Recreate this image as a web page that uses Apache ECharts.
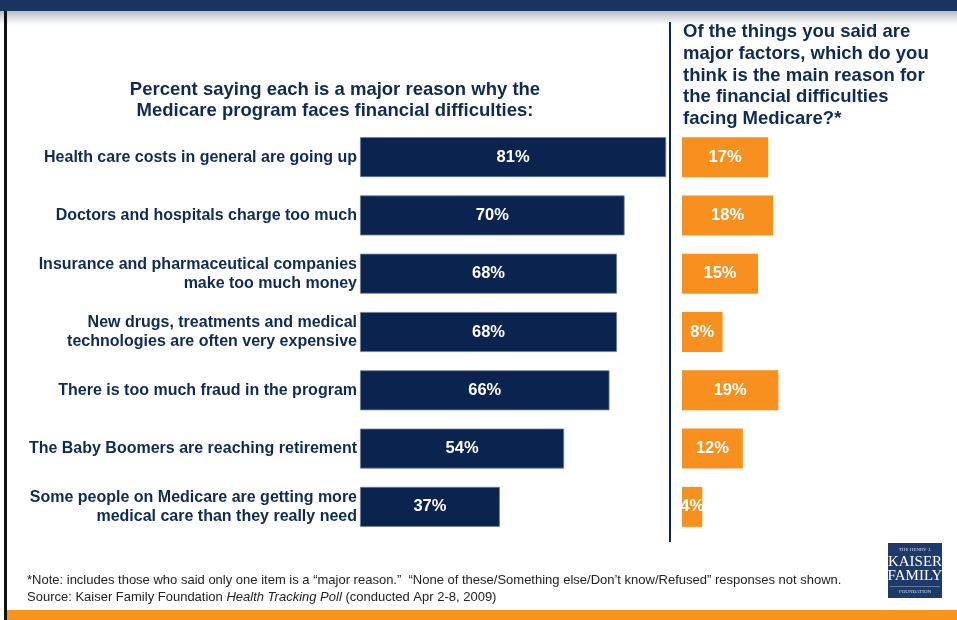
<!DOCTYPE html>
<html><head><meta charset="utf-8">
<script src="https://cdn.jsdelivr.net/npm/echarts@6/dist/echarts.min.js"></script>
<style>html,body{margin:0;padding:0;background:#fff}#c{width:957px;height:620px}</style>
</head><body><div id="c"></div>
<script>
const categories = [
  "Health care costs in general are going up",
  "Doctors and hospitals charge too much",
  "Insurance and pharmaceutical companies\nmake too much money",
  "New drugs, treatments and medical\ntechnologies are often very expensive",
  "There is too much fraud in the program",
  "The Baby Boomers are reaching retirement",
  "Some people on Medicare are getting more\nmedical care than they really need"
];
const majorReason = [81, 70, 68, 68, 66, 54, 37];
const mainReason = [17, 18, 15, 8, 19, 12, 4];

const NAVY = '#0b244f', TXT = '#0f2a55', ORANGE = '#f7901e';
const FONT = '"Liberation Sans", Arial, sans-serif';
const chart = echarts.init(document.getElementById('c'), null, {renderer: 'canvas'});
const gridTop = 128, gridBottom = 620 - 536;
chart.setOption({
  animation: false,
  textStyle: {fontFamily: FONT},
  grid: [
    {left: 360, width: 378, top: gridTop, bottom: gridBottom},
    {left: 682, width: 253.5, top: gridTop, bottom: gridBottom}
  ],
  xAxis: [
    {gridIndex: 0, type: 'value', min: 0, max: 100, show: false},
    {gridIndex: 1, type: 'value', min: 0, max: 50, show: false}
  ],
  yAxis: [
    {gridIndex: 0, type: 'category', data: categories, inverse: true,
     axisLine: {show: false}, axisTick: {show: false},
     axisLabel: {color: TXT, fontWeight: 'bold', fontSize: 16, fontFamily: FONT, lineHeight: 19, margin: 3, align: 'right'}},
    {gridIndex: 1, type: 'category', data: categories, inverse: true, show: false}
  ],
  series: [
    {type: 'bar', xAxisIndex: 0, yAxisIndex: 0, data: majorReason, barWidth: 40,
     itemStyle: {color: NAVY, borderColor: '#6d7f9e', borderWidth: 0.8},
     label: {show: true, position: 'inside', color: '#fff', fontWeight: 'bold', fontSize: 16.5, fontFamily: FONT, formatter: '{c}%'}},
    {type: 'bar', xAxisIndex: 1, yAxisIndex: 1, data: mainReason, barWidth: 40,
     itemStyle: {color: ORANGE},
     label: {show: true, position: 'inside', color: '#fff', fontWeight: 'bold', fontSize: 16.5, fontFamily: FONT, formatter: '{c}%'}}
  ],
  graphic: [
    {type: 'rect', shape: {x: 0, y: 0, width: 957, height: 11}, style: {fill: '#17355f'}},
    {type: 'rect', shape: {x: 0, y: 11, width: 957, height: 14},
     style: {fill: new echarts.graphic.LinearGradient(0, 0, 0, 1, [{offset: 0, color: '#b9bcc2'}, {offset: 1, color: '#ffffff'}])}},
    {type: 'rect', shape: {x: 4, y: 11, width: 3, height: 609}, style: {fill: '#111'}},
    {type: 'rect', shape: {x: 7, y: 610, width: 950, height: 10}, style: {fill: '#f7941d'}},
    {type: 'rect', shape: {x: 669, y: 22, width: 2, height: 520}, style: {fill: NAVY}},
    {type: 'text', x: 335, y: 79, style: {text: 'Percent saying each is a major reason why the\nMedicare program faces financial difficulties:',
      fill: TXT, font: 'bold 18.5px ' + FONT, textAlign: 'center', lineHeight: 21.5}},
    {type: 'text', x: 683, y: 21, style: {text: 'Of the things you said are\nmajor factors, which do you\nthink is the main reason for\nthe financial difficulties\nfacing Medicare?*',
      fill: TXT, font: 'bold 18.5px ' + FONT, textAlign: 'left', lineHeight: 21.8}},
    {type: 'text', x: 27, y: 572, style: {rich: {
        n: {fontSize: 13, fontFamily: FONT, fill: '#222', lineHeight: 17},
        i: {fontSize: 13, fontFamily: FONT, fill: '#222', fontStyle: 'italic', lineHeight: 17}},
      text: '{n|*Note: includes those who said only one item is a \u201cmajor reason.\u201d  \u201cNone of these/Something else/Don\u2019t know/Refused\u201d responses not shown.}\n{n|Source: Kaiser Family Foundation }{i|Health Tracking Poll}{n| (conducted Apr 2-8, 2009)}'}},
    {type: 'rect', shape: {x: 888, y: 543, width: 54, height: 55}, style: {fill: '#1d3a6b'}},
    {type: 'text', x: 915, y: 547, style: {text: 'THE HENRY J.', fill: '#d8dde8', font: '5px "Liberation Serif", serif', textAlign: 'center'}},
    {type: 'text', x: 915, y: 555, style: {text: 'KAISER\nFAMILY', fill: '#ffffff', font: '15px "Liberation Serif", serif', textAlign: 'center', lineHeight: 14}},
    {type: 'text', x: 915, y: 589, style: {text: 'FOUNDATION', fill: '#d8dde8', font: '5px "Liberation Serif", serif', textAlign: 'center'}},
    {type: 'rect', shape: {x: 890, y: 586, width: 50, height: 0.6}, style: {fill: '#aab4c8'}}
  ]
});
</script></body></html>
